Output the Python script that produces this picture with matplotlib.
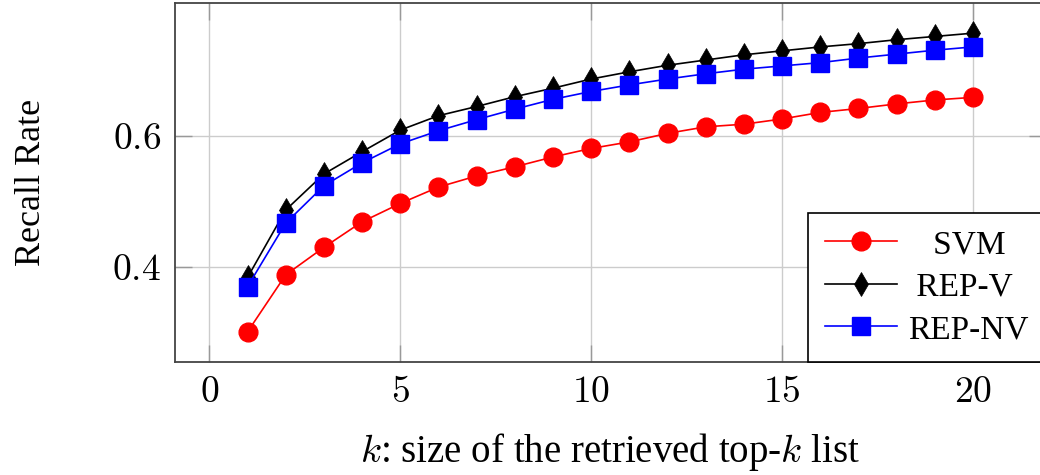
import matplotlib
matplotlib.use("Agg")
import matplotlib.pyplot as plt
from matplotlib.ticker import FuncFormatter

K = list(range(1, 21))

SVM = [0.301, 0.388, 0.430, 0.469, 0.497, 0.522, 0.539, 0.553, 0.568, 0.581,
       0.591, 0.604, 0.614, 0.618, 0.626, 0.636, 0.642, 0.649, 0.655, 0.659]
REP_V = [0.384, 0.487, 0.542, 0.576, 0.609, 0.631, 0.645, 0.660, 0.673, 0.687,
         0.698, 0.708, 0.716, 0.724, 0.730, 0.736, 0.741, 0.747, 0.752, 0.757]
REP_NV = [0.370, 0.467, 0.524, 0.559, 0.588, 0.608, 0.625, 0.641, 0.656, 0.668,
          0.678, 0.687, 0.695, 0.702, 0.707, 0.712, 0.719, 0.725, 0.731, 0.736]

X_TICKS = [0, 5, 10, 15, 20]
Y_TICKS = [0.4, 0.6]

# text in Times-like serif, numbers and k in Computer Modern math
plt.rcParams["font.family"] = "Liberation Serif"
plt.rcParams["mathtext.fontset"] = "cm"


def draw() -> None:
    fig = plt.figure(figsize=(10.4, 4.75), dpi=100)
    ax = fig.add_axes([175 / 1040, 1 - 361.7 / 475, 870.5 / 1040, 358.4 / 475])

    ax.plot(K, SVM, color="red", lw=1.2, marker="o", ms=13.5, label="   SVM")
    ax.plot(K, REP_V, color="black", lw=1.2, marker="d", ms=12, mew=0.5, label=" REP-V")
    ax.plot(K, REP_NV, color="blue", lw=1.2, marker="s", ms=13.5, label="REP-NV")

    ax.margins(x=0.1, y=0.1)
    ax.set_xticks(X_TICKS)
    ax.set_yticks(Y_TICKS)
    ax.xaxis.set_major_formatter(FuncFormatter(lambda v, p: f"${v:g}$"))
    ax.yaxis.set_major_formatter(FuncFormatter(lambda v, p: f"${v:.1f}$"))
    ax.grid(True, color="#cccccc", lw=1.0)
    ax.set_axisbelow(True)
    ax.tick_params(direction="in", length=12, width=1.0, color="#999999",
                   top=True, right=True, pad=10, labelsize=27)

    for s in ax.spines.values():
        s.set_color("#444444")
        s.set_linewidth(1.3)

    ax.set_xlabel(r"$k$: size of the retrieved top-$k$ list", fontsize=28, labelpad=15)
    ax.set_ylabel("Recall Rate", fontsize=26, labelpad=46)

    leg = ax.legend(loc="lower right", borderaxespad=0, fancybox=False,
                    framealpha=1, edgecolor="black", fontsize=24,
                    handlelength=2.15, handletextpad=0.35, labelspacing=0.36,
                    borderpad=0.5)
    leg.get_frame().set_linewidth(1.2)

    fig.savefig("out.png", dpi=100)


draw()
